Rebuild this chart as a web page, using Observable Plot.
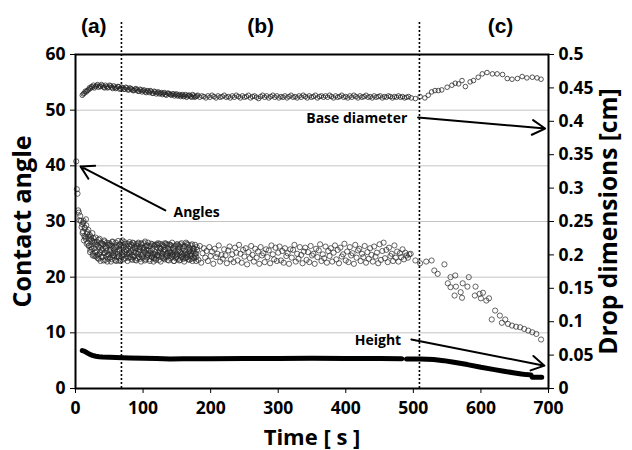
<!DOCTYPE html>
<html><head><meta charset="utf-8">
<script src="https://cdn.jsdelivr.net/npm/d3@7"></script>
<script src="https://cdn.jsdelivr.net/npm/@observablehq/plot@0.6"></script>
<style>body{margin:0;background:#fff}</style>
</head><body><div id="chart"></div>
<script>
// ---- tick labels ----
const timeTicks = [0, 100, 200, 300, 400, 500, 600, 700];
const angleTicks = [0, 10, 20, 30, 40, 50, 60];
const dimTicks = [0, 0.05, 0.1, 0.15, 0.2, 0.25, 0.3, 0.35, 0.4, 0.45, 0.5];
const cmPerAxis = 0.5 / 60; // right axis: 0.5 cm at the top of the 0–60° axis

// ---- phases ----
const phaseBounds = [68, 509];
const phaseLabels = ["(a)", "(b)", "(c)"];
const phaseLabelTime = [27, 274, 629];

// ---- contact angle (deg) ----
const angleFirstTimes = [1, 2, 3, 4, 5, 6, 7, 8, 9];
const angleFirstValues = [40.8, 35.8, 35.0, 32.0, 31.6, 30.2, 31.0, 30.1, 29.0];
// readings every 1 s from t = 10 s
const angleEarlyStart = 10, angleEarlyStep = 1;
const angleEarlyValues = [
  29.5, 28.2, 30.1, 27.4, 28.8, 26.9, 29.3, 27.8, 26.2, 28.5,
  25.7, 27.6, 24.9, 26.8, 25.1, 27.9, 24.2, 26.4, 23.8, 25.9,
  27.1, 24.6, 25.8, 23.4, 26.7, 24.1, 25.3, 22.9, 26.2, 24.8,
  23.6, 25.9, 24.3, 26.4, 23.1, 25.2, 24.7, 22.8, 25.8, 24.0,
  26.1, 23.5, 24.9, 25.6, 23.2, 26.3, 24.4, 23.8, 25.4, 24.2,
  22.9, 25.7, 24.6, 26.5, 23.7, 24.9, 25.9, 23.3, 26.2, 24.5,
  23.9, 25.3, 24.1, 26.0, 23.4, 25.5, 24.8, 22.9, 25.1, 24.3,
  26.3, 23.6, 24.7, 25.8, 23.1, 24.9, 26.1, 23.8, 25.2, 24.4,
  23.0, 25.6, 24.2, 26.2, 23.6, 24.8, 25.4, 22.8, 25.9, 24.1,
  23.5, 25.2, 24.6, 26.4, 23.2, 24.9, 25.7, 23.9, 24.3, 25.5,
  22.9, 24.7, 26.0, 23.6, 25.1, 24.2, 23.4, 25.8, 24.5, 23.1,
  25.4, 24.0, 26.1, 23.7, 24.8, 25.3, 22.8, 24.4, 25.9, 23.5,
  24.6, 25.5, 23.2, 24.9, 26.0, 23.8, 24.3, 25.2, 23.0, 24.7,
  25.8, 23.4, 24.5, 26.2, 23.9, 25.0, 22.9, 24.6, 25.6, 23.6,
  24.2, 25.9, 23.3, 24.8, 25.4, 23.1, 24.4, 26.1, 23.7, 25.1,
  24.0, 22.8, 25.6, 24.5, 23.5, 26.0, 24.2, 23.2, 25.3, 24.7,
  23.8, 25.7, 24.1, 22.9, 25.2, 24.6, 23.4, 25.8, 24.3, 23.6
];
// second reading of each second, at t + 0.5 s
const angleEarly2Start = 10.5, angleEarly2Step = 1;
const angleEarly2Values = [
  27.9, 29.8, 26.6, 28.9, 27.2, 30.4, 26.0, 28.1, 27.3, 25.6,
  26.9, 24.5, 27.3, 25.4, 26.5, 23.9, 27.0, 25.2, 26.3, 24.4,
  23.7, 26.4, 24.0, 25.5, 23.3, 26.9, 24.5, 25.7, 23.6, 26.0,
  25.1, 23.0, 26.6, 24.4, 25.5, 23.7, 26.2, 24.1, 23.3, 25.7,
  24.6, 25.9, 22.8, 24.3, 26.4, 23.9, 25.2, 24.8, 23.1, 26.2,
  25.4, 23.6, 24.2, 23.0, 25.8, 24.7, 22.9, 25.5, 24.0, 26.6,
  25.7, 23.2, 26.3, 24.5, 25.0, 23.7, 24.1, 26.0, 23.5, 25.6,
  24.5, 25.9, 23.3, 24.0, 26.2, 23.6, 24.5, 25.5, 23.1, 25.9,
  25.2, 23.4, 26.0, 24.5, 25.1, 23.3, 24.0, 26.1, 23.7, 25.3,
  24.9, 26.1, 23.0, 24.4, 25.6, 23.5, 24.1, 26.2, 24.8, 23.2,
  25.6, 24.3, 23.7, 25.9, 24.0, 22.8, 25.6, 24.1, 23.3, 25.9,
  23.8, 25.8, 24.4, 23.1, 26.0, 24.6, 25.1, 23.7, 24.2, 25.7,
  23.4, 24.9, 26.1, 23.6, 24.2, 25.8, 23.1, 24.5, 25.9, 23.9,
  24.3, 25.7, 23.7, 24.1, 25.2, 22.9, 25.5, 24.0, 23.4, 25.9,
  23.9, 24.5, 25.7, 23.0, 24.6, 25.9, 23.6, 24.2, 25.5, 23.3,
  25.5, 24.2, 23.4, 26.2, 24.0, 23.6, 25.8, 24.6, 23.1, 25.0,
  24.4, 23.3, 25.9, 24.7, 23.5, 25.1, 23.9, 24.2, 22.9, 25.4
];
// readings every 2 s from t = 180 s
const angleLateStart = 180, angleLateStep = 2;
const angleLateValues = [
  24.9, 23.1, 25.6, 22.6, 24.3, 25.2, 23.5, 24.7, 22.9, 25.4,
  23.8, 24.6, 22.4, 25.1, 23.6, 24.2, 25.7, 22.8, 24.0, 23.3,
  25.0, 23.9, 22.5, 24.8, 25.5, 23.2, 24.1, 22.7, 25.3, 24.4,
  23.0, 25.8, 24.2, 22.6, 24.9, 23.7, 25.2, 22.3, 24.5, 23.4,
  25.6, 24.0, 22.8, 25.1, 23.5, 24.6, 22.4, 25.4, 23.9, 24.3,
  22.7, 25.0, 23.6, 24.8, 22.5, 25.7, 24.1, 23.2, 25.3, 22.9,
  24.4, 25.5, 23.0, 24.7, 22.6, 25.2, 23.8, 24.3, 22.4, 25.0,
  23.5, 24.9, 25.8, 22.8, 24.2, 23.3, 25.4, 24.0, 22.5, 24.6,
  25.3, 23.1, 24.5, 22.7, 25.6, 23.9, 24.2, 22.4, 25.1, 23.6,
  24.8, 25.9, 22.9, 24.1, 23.4, 25.5, 22.6, 24.7, 23.8, 25.2,
  22.8, 24.4, 25.7, 23.2, 24.9, 22.5, 25.3, 23.7, 24.1, 26.0,
  23.0, 24.6, 22.7, 25.4, 23.9, 24.3, 22.4, 25.8, 23.5, 24.8,
  25.1, 22.9, 24.2, 23.6, 25.6, 22.6, 24.5, 23.3, 25.2, 24.0,
  22.8, 25.5, 23.7, 24.4, 22.5, 25.9, 23.1, 24.7, 26.2, 23.4,
  24.9, 22.7, 25.3, 23.8, 24.2, 22.9, 25.7, 23.5, 24.6, 22.8,
  24.3, 23.6, 25.0, 23.2, 24.4, 23.9, 23.5, 24.1
];
const angleEndTimes = [496, 503, 510, 519, 527, 531, 536, 546, 551, 555, 555, 561, 562, 563, 570, 572, 573, 580, 582, 591, 592, 598, 600, 603, 608, 612, 616, 621, 628, 631, 636, 640, 646, 652, 658, 664, 670, 676, 682, 689];
const angleEndValues = [24.2, 23.0, 22.5, 22.8, 23.0, 21.2, 20.6, 22.3, 18.9, 20.0, 18.2, 16.7, 20.3, 18.3, 17.3, 16.3, 18.9, 18.3, 20.0, 16.7, 18.3, 17.0, 16.2, 17.2, 15.8, 16.2, 12.4, 14.0, 13.1, 11.8, 12.4, 11.6, 11.3, 11.1, 11.0, 10.7, 10.4, 10.1, 9.8, 8.8];

// ---- base diameter (cm), readings every 3 s from t = 10 s ----
const baseStart = 10, baseStep = 3;
const baseValues = [
  0.439, 0.442, 0.444, 0.447, 0.449, 0.451, 0.450, 0.453, 0.451, 0.452,
  0.453, 0.450, 0.452, 0.451, 0.453, 0.449, 0.451, 0.450, 0.452, 0.449,
  0.450, 0.448, 0.450, 0.447, 0.449, 0.446, 0.448, 0.447, 0.445, 0.447,
  0.446, 0.444, 0.446, 0.443, 0.445, 0.442, 0.444, 0.443, 0.441, 0.443,
  0.442, 0.440, 0.442, 0.441, 0.439, 0.441, 0.440, 0.438, 0.440, 0.439,
  0.437, 0.440, 0.438, 0.439, 0.436, 0.438, 0.437, 0.439, 0.436, 0.438,
  0.437, 0.435, 0.438, 0.436, 0.439, 0.437, 0.435, 0.438, 0.436, 0.437,
  0.439, 0.436, 0.437, 0.435, 0.438, 0.436, 0.439, 0.437, 0.435, 0.438,
  0.436, 0.437, 0.439, 0.435, 0.437, 0.438, 0.436, 0.434, 0.437, 0.439,
  0.436, 0.438, 0.435, 0.437, 0.439, 0.436, 0.438, 0.435, 0.437, 0.436,
  0.438, 0.435, 0.437, 0.439, 0.436, 0.437, 0.435, 0.438, 0.436, 0.439,
  0.437, 0.435, 0.438, 0.436, 0.437, 0.439, 0.435, 0.437, 0.438, 0.436,
  0.438, 0.436, 0.439, 0.437, 0.435, 0.438, 0.436, 0.437, 0.439, 0.436,
  0.437, 0.435, 0.438, 0.436, 0.439, 0.437, 0.435, 0.438, 0.436, 0.437,
  0.439, 0.436, 0.437, 0.435, 0.438, 0.436, 0.437, 0.438, 0.435, 0.437,
  0.436, 0.438, 0.437, 0.435, 0.437, 0.436, 0.438, 0.436, 0.437, 0.435,
  0.436, 0.437
];
// extra readings in the dense early part, from t = 11.5 s every 3 s
const base2Start = 11.5, base2Step = 3;
const base2Values = [
  0.441, 0.445, 0.446, 0.450, 0.452, 0.454, 0.452, 0.455, 0.453, 0.455,
  0.451, 0.454, 0.450, 0.454, 0.451, 0.453, 0.449, 0.452, 0.448, 0.451,
  0.448, 0.451, 0.447, 0.450, 0.448, 0.446, 0.449, 0.445, 0.448, 0.444,
  0.447, 0.443, 0.445, 0.446, 0.442, 0.445, 0.441, 0.444, 0.442, 0.440,
  0.443, 0.439, 0.442, 0.440, 0.441, 0.438, 0.441, 0.439, 0.437, 0.440,
  0.438, 0.436, 0.439, 0.437, 0.440, 0.436, 0.438
];
const baseEndTimes = [497, 503, 510, 517, 522, 527, 532, 537, 542, 550, 557, 562, 567, 572, 577, 584, 589, 596, 602, 609, 617, 624, 632, 639, 646, 654, 661, 668, 676, 683, 689];
const baseEndValues = [0.435, 0.434, 0.437, 0.435, 0.439, 0.444, 0.446, 0.446, 0.447, 0.451, 0.454, 0.457, 0.456, 0.461, 0.452, 0.459, 0.461, 0.466, 0.471, 0.473, 0.471, 0.471, 0.470, 0.464, 0.463, 0.464, 0.467, 0.465, 0.466, 0.465, 0.463];

// ---- height (cm) ----
const heightTimes = [10, 13, 16, 20, 25, 30, 35, 40, 50, 60, 80, 100, 120, 140, 160, 200, 250, 300, 350, 400, 450, 483, 486, 490, 510, 530, 545, 560, 580, 600, 620, 634, 650, 660, 667, 674, 676, 690];
const heightValues = [0.0567, 0.0558, 0.0542, 0.0517, 0.0496, 0.0483, 0.0475, 0.0471, 0.0467, 0.0463, 0.0458, 0.0454, 0.0450, 0.0442, 0.0446, 0.0446, 0.0450, 0.0450, 0.0454, 0.0450, 0.0450, 0.0446, NaN, 0.0442, 0.0442, 0.0433, 0.0417, 0.0392, 0.0358, 0.0317, 0.0283, 0.0258, 0.0233, 0.0217, 0.0208, 0.0204, 0.0167, 0.0167];

// ---- annotations ----
const noteLabels = ["Angles", "Base diameter", "Height"];
const noteTextTime = [145, 491, 482];
const noteTextAngle = [31.6, 48.5, 8.6];
const noteAnchor = ["start", "end", "end"];
const noteTailTime = [133, 507, 497];
const noteTailAngle = [32, 48.7, 8.8];
const noteTipTime = [7.4, 695, 694];
const noteTipAngle = [39.9, 46.7, 4.1];

// ---- build tables ----
const angleData = [
  ...angleFirstTimes.map((t, i) => ({t, v: angleFirstValues[i]})),
  ...angleEarlyValues.map((v, i) => ({t: angleEarlyStart + i * angleEarlyStep, v})),
  ...angleEarly2Values.map((v, i) => ({t: angleEarly2Start + i * angleEarly2Step, v})),
  ...angleLateValues.map((v, i) => ({t: angleLateStart + i * angleLateStep, v})),
  ...angleEndTimes.map((t, i) => ({t, v: angleEndValues[i]}))
];
const baseData = [
  ...baseValues.map((v, i) => ({t: baseStart + i * baseStep, v})),
  ...base2Values.map((v, i) => ({t: base2Start + i * base2Step, v})),
  ...baseEndTimes.map((t, i) => ({t, v: baseEndValues[i]}))
];
const heightData = heightTimes.map((t, i) => ({t, v: heightValues[i]}));
const notes = noteLabels.map((label, i) => ({
  label, tx: noteTextTime[i], ty: noteTextAngle[i], anchor: noteAnchor[i],
  x1: noteTailTime[i], y1: noteTailAngle[i], x2: noteTipTime[i], y2: noteTipAngle[i]
}));
const phases = phaseLabels.map((label, i) => ({label, t: phaseLabelTime[i]}));

const font = "'Open Sans', 'Liberation Sans', sans-serif";

const chart = Plot.plot({
  width: 632, height: 450,
  marginLeft: 75, marginRight: 84, marginTop: 54, marginBottom: 62,
  style: {fontFamily: font, fontSize: "17.5px", fontWeight: "700", background: "#fff", color: "#000"},
  x: {domain: [0, 700]},
  y: {domain: [0, 60]},
  marks: [
    Plot.gridY(angleTicks.filter(d => d > 0 && d < 60), {stroke: "#c4c4c4", strokeOpacity: 1, strokeWidth: 1}),
    Plot.ruleX(phaseBounds, {y1: 0, y2: 65.8, stroke: "#000", strokeWidth: 1.6, strokeDasharray: "2,2"}),
    Plot.dot(angleData, {x: "t", y: "v", r: 2.6, stroke: "#2a2a2a", strokeWidth: 0.9, strokeOpacity: 0.8, fill: "none"}),
    Plot.dot(baseData, {x: "t", y: d => d.v / cmPerAxis, r: 2.3, stroke: "#222", strokeWidth: 0.9, strokeOpacity: 0.85, fill: "none"}),
    Plot.line(heightData, {x: "t", y: d => d.v / cmPerAxis, stroke: "#000", strokeWidth: 5}),
    Plot.frame({stroke: "#000", strokeWidth: 2}),
    Plot.axisX({ticks: timeTicks, tickSize: 5, tickPadding: 8, label: null, tickFormat: d => String(d)}),
    Plot.axisY({ticks: angleTicks, anchor: "left", tickSize: 5, tickPadding: 5, label: null}),
    Plot.axisY({ticks: dimTicks.map(d => d / cmPerAxis), anchor: "right", tickSize: 5, tickPadding: 5, label: null,
      tickFormat: d => String(+(d * cmPerAxis).toFixed(2))}),
    Plot.text(["Contact angle"], {frameAnchor: "left", textAnchor: "middle", lineAnchor: "middle", rotate: -90, dx: -53, fontSize: 25, fontWeight: "700"}),
    Plot.text(["Drop dimensions [cm]"], {frameAnchor: "right", textAnchor: "middle", lineAnchor: "middle", rotate: -90, dx: 61, fontSize: 24.5, fontWeight: "700"}),
    Plot.text(["Time [ s ]"], {frameAnchor: "bottom", textAnchor: "middle", lineAnchor: "middle", dy: 49, fontSize: 22, fontWeight: "700"}),
    Plot.text(phases, {x: "t", y: 65, text: "label", fontSize: 21, fontWeight: "700", fontFamily: "'Liberation Sans', Arial, sans-serif"}),
    Plot.arrow(notes, {x1: "x1", y1: "y1", x2: "x2", y2: "y2", stroke: "#000", strokeWidth: 2, headLength: 11, bend: 0}),
    Plot.text(notes.filter(d => d.anchor === "start"), {x: "tx", y: "ty", text: "label", textAnchor: "start", fontSize: 14, fontWeight: "700"}),
    Plot.text(notes.filter(d => d.anchor === "end"), {x: "tx", y: "ty", text: "label", textAnchor: "end", fontSize: 14, fontWeight: "700"})
  ]
});
document.getElementById("chart").appendChild(chart);
</script>
</body></html>
